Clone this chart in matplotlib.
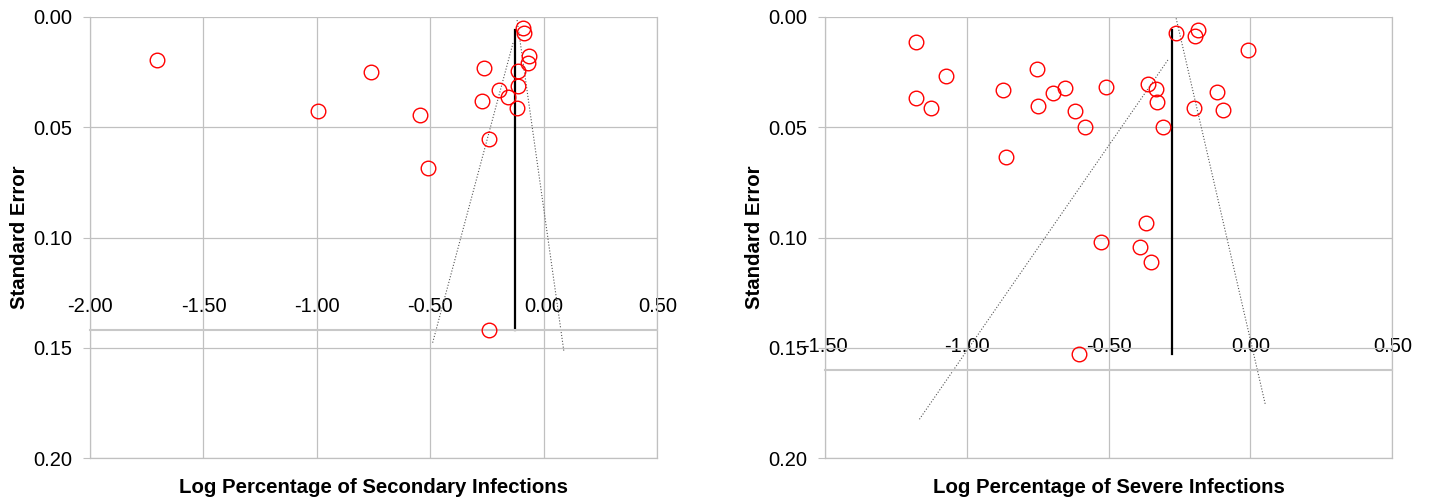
import matplotlib.pyplot as plt
import numpy as np

plt.rcParams['font.family'] = ['Liberation Sans', 'DejaVu Sans']

# secondary infections (left panel)
sec_x = [-1.703, -0.996, -0.544, -0.511, -0.262, -0.274, -0.240, -0.197, -0.156,
         -0.112, -0.115, -0.118, -0.094, -0.089, -0.065, -0.069, -0.243, -0.760]
sec_se = [0.0195, 0.0428, 0.0445, 0.0684, 0.0230, 0.0380, 0.0552, 0.0332, 0.0365,
          0.0245, 0.0313, 0.0411, 0.0048, 0.0074, 0.0175, 0.0207, 0.1420, 0.0250]
sec_mean_x = [-0.127, -0.127]
sec_mean_se = [0.0059, 0.142]
sec_lo_x = [-0.136, -0.491]
sec_lo_se = [0.0118, 0.148]
sec_hi_x = [-0.118, 0.088]
sec_hi_se = [0.0014, 0.1515]
sec_cross = 0.142
sec_xticks = [-2.0, -1.5, -1.0, -0.5, 0.0, 0.5]

# severe infections (right panel)
sev_x = [-1.179, -1.073, -1.179, -1.127, -0.873, -0.752, -0.749, -0.695, -0.654,
         -0.619, -0.582, -0.509, -0.862, -0.526, -0.605, -0.262, -0.197, -0.186,
         -0.008, -0.362, -0.333, -0.329, -0.308, -0.200, -0.117, -0.096, -0.369,
         -0.390, -0.349]
sev_se = [0.0112, 0.0268, 0.0369, 0.0411, 0.0331, 0.0236, 0.0404, 0.0346, 0.0324,
          0.0428, 0.0500, 0.0318, 0.0637, 0.1022, 0.1528, 0.0074, 0.0086, 0.0059,
          0.0150, 0.0305, 0.0328, 0.0386, 0.0499, 0.0411, 0.0342, 0.0422, 0.0933,
          0.1045, 0.1110]
sev_mean_x = [-0.277, -0.277]
sev_mean_se = [0.0059, 0.153]
sev_lo_x = [-0.291, -1.167]
sev_lo_se = [0.0195, 0.1824]
sev_hi_x = [-0.262, 0.053]
sev_hi_se = [0.0006, 0.176]
sev_cross = 0.160
sev_xticks = [-1.5, -1.0, -0.5, 0.0, 0.5]

yticks = [0.0, 0.05, 0.10, 0.15, 0.20]

fig = plt.figure(figsize=(14.29, 4.99), dpi=100)
ax1 = fig.add_axes([0.063, 0.082, 0.397, 0.884])
ax2 = fig.add_axes([0.5773, 0.082, 0.397, 0.884])


def funnel(ax, x, se, mx, mse, lx, lse, hx, hse, cross, xticks, xlabel):
    ax.plot(lx, lse, ':', color='#555555', lw=0.8)
    ax.plot(hx, hse, ':', color='#555555', lw=0.8)
    ax.plot(mx, mse, '-', color='black', lw=1.6)
    ax.plot(x, se, 'o', mfc='none', mec='red', ms=10.5, mew=1.0, zorder=5)
    ax.set_xlim(xticks[0], xticks[-1])
    ax.set_ylim(0.20, 0.0)
    ax.set_xticks(xticks)
    ax.set_xticklabels(['%.2f' % t for t in xticks])
    ax.set_yticks(yticks)
    ax.set_yticklabels(['%.2f' % t for t in yticks])
    ax.grid(True, color='#c0c0c0', lw=0.9)
    ax.set_axisbelow(True)
    for s in ['left', 'right', 'bottom']:
        ax.spines[s].set_color('#c0c0c0')
        ax.spines[s].set_linewidth(0.9)
    ax.spines['top'].set_position(('data', cross))
    ax.spines['top'].set_color('#c8c8c8')
    ax.spines['top'].set_linewidth(1.5)
    ax.xaxis.set_ticks_position('top')
    ax.xaxis.set_label_position('bottom')
    ax.tick_params(axis='x', length=0, pad=10, labelsize=14.5)
    ax.tick_params(axis='y', length=5, color='#c0c0c0', pad=8, labelsize=14.5)
    ax.set_xlabel(xlabel, fontsize=14.7, fontweight='bold', labelpad=14)
    ax.set_ylabel('Standard Error', fontsize=14.7, fontweight='bold', labelpad=3)


funnel(ax1, sec_x, sec_se, sec_mean_x, sec_mean_se, sec_lo_x, sec_lo_se,
       sec_hi_x, sec_hi_se, sec_cross, sec_xticks,
       'Log Percentage of Secondary Infections')
funnel(ax2, sev_x, sev_se, sev_mean_x, sev_mean_se, sev_lo_x, sev_lo_se,
       sev_hi_x, sev_hi_se, sev_cross, sev_xticks,
       'Log Percentage of Severe Infections')

fig.savefig('out.png', dpi=100)
